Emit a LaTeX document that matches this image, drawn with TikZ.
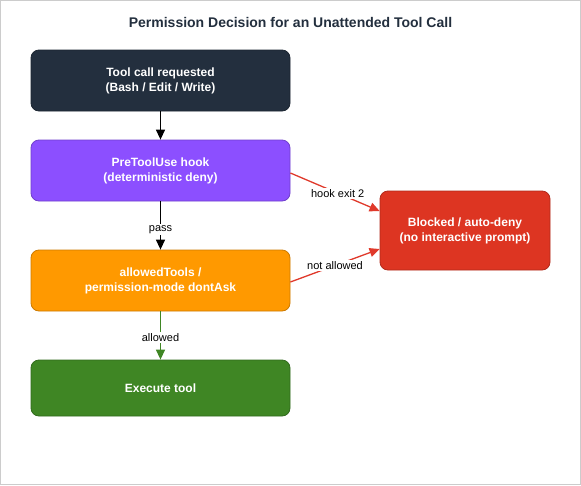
\documentclass[tikz,border=0pt]{standalone}
\usepackage{fontspec}
\setmainfont{Liberation Sans}
\usetikzlibrary{arrows.meta,calc}
\definecolor{navy}{HTML}{232F3E}
\definecolor{purp}{HTML}{8C4FFF}
\definecolor{orng}{HTML}{FF9900}
\definecolor{grn}{HTML}{3F8624}
\definecolor{redb}{HTML}{DD3522}
\definecolor{redl}{HTML}{E0392B}
\definecolor{frame}{HTML}{CCCCCC}
\tikzset{
  box/.style={draw=#1!80!black, fill=#1, rounded corners=8pt, line width=0.8pt,
    minimum width=259pt, minimum height=61pt, text=white, align=center,
    font=\fontsize{12}{15}\selectfont\bfseries, inner sep=0pt},
  conn/.style={line width=1.3pt, -{Triangle[length=10pt,width=9pt]}},
  lbl/.style={fill=white, inner sep=1.5pt, font=\fontsize{11}{13}\selectfont, text=black},
}
\begin{document}
\begin{tikzpicture}[x=1pt,y=-1pt]
\draw[frame, line width=1pt, fill=white] (0.5,0.5) rectangle (580.5,484.5);
\useasboundingbox (0,0) rectangle (581,485);
\node[font=\fontsize{14}{17}\selectfont\bfseries, text=navy] (title) at (290.5,22) {Permission Decision for an Unattended Tool Call};
\node[box=navy] (b1) at (160.5,80.5) {Tool call requested\\(Bash / Edit / Write)};
\node[box=purp] (b2) at (160.5,170.5) {PreToolUse hook\\(deterministic deny)};
\node[box=orng] (b3) at (160.5,280.5) {allowedTools /\\permission-mode dontAsk};
\node[box=grn, minimum height=56pt] (b4) at (160.5,388) {Execute tool};
\node[box=redb, minimum width=170pt, minimum height=79pt] (b5) at (465,230.5) {Blocked / auto-deny\\(no interactive prompt)};
\draw[conn, black] (b1) -- (b2);
\draw[conn, black] (b2) -- node[lbl, pos=0.58] {pass} (b3);
\draw[conn, grn] (b3) -- node[lbl, pos=0.54] {allowed} (b4);
\coordinate (s1) at ($(b2.east)+(0,2.5)$);
\coordinate (e1) at ($(b5.west)+(0,-19.5)$);
\coordinate (s2) at ($(b3.east)+(0,1.5)$);
\coordinate (e2) at ($(b5.west)+(0,18.5)$);
\draw[conn, redl] (s1) -- node[lbl, pos=0.53] {hook exit 2} (e1);
\draw[conn, redl] (s2) -- node[lbl] {not allowed} (e2);
\end{tikzpicture}
\end{document}
